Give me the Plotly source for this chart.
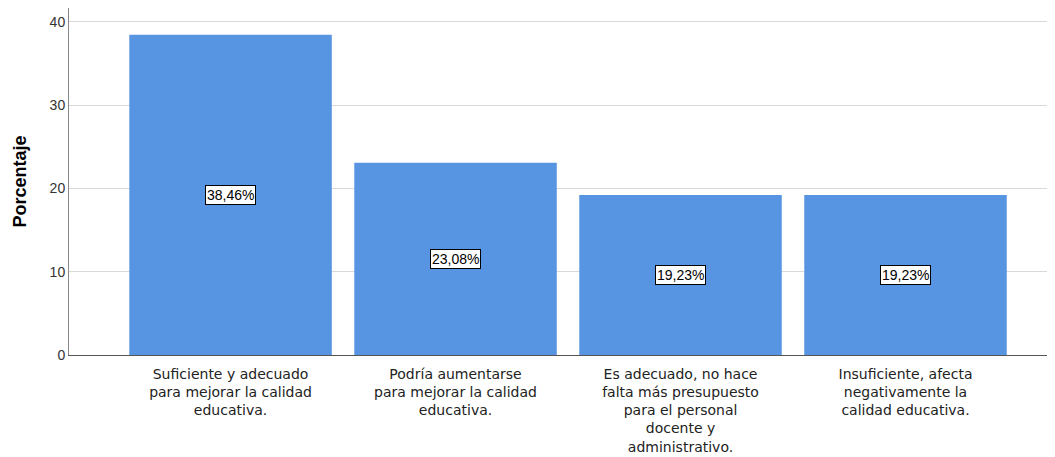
import plotly.graph_objects as go

categories = [
    "Suficiente y adecuado<br>para mejorar la calidad<br>educativa.",
    "Podría aumentarse<br>para mejorar la calidad<br>educativa.",
    "Es adecuado, no hace<br>falta más presupuesto<br>para el personal<br>docente y<br>administrativo.",
    "Insuficiente, afecta<br>negativamente la<br>calidad educativa.",
]
values = [38.46, 23.08, 19.23, 19.23]
labels = ["38,46%", "23,08%", "19,23%", "19,23%"]

fig = go.Figure()
fig.add_trace(go.Bar(
    x=list(range(len(categories))),
    y=values,
    width=0.9,
    marker=dict(color="#5795E2", line=dict(width=0)),
    hoverinfo="skip",
))

for i, (v, lab) in enumerate(zip(values, labels)):
    fig.add_annotation(
        x=i, y=v / 2, text=lab, showarrow=False,
        font=dict(family="Arial", size=14, color="black"),
        bgcolor="white", bordercolor="black", borderwidth=1, borderpad=1,
    )

fig.update_layout(
    width=1055, height=457,
    margin=dict(l=61, r=0, t=0, b=110, autoexpand=False),
    plot_bgcolor="white", paper_bgcolor="white",
    showlegend=False,
    bargap=0.1,
    font=dict(family="Arial", color="#222"),
)
fig.update_xaxes(
    tickmode="array", tickvals=list(range(len(categories))), ticktext=categories,
    range=[-0.718, 3.70],
    tickfont=dict(family="DejaVu Sans", size=14, color="#222"),
    showline=True, linecolor="#555", linewidth=1,
    showgrid=False, ticks="outside", ticklen=6, tickcolor="rgba(0,0,0,0)", zeroline=False,
)
fig.update_yaxes(
    range=[0, 41.68],
    tickvals=[0, 10, 20, 30, 40],
    tickfont=dict(family="Arial", size=14, color="#333"),
    title=dict(text="<b>Porcentaje</b>", font=dict(family="Arial", size=18, color="black"), standoff=18),
    showline=True, linecolor="#888", linewidth=1,
    showgrid=True, gridcolor="#d9d9d9", gridwidth=1,
    ticks="", zeroline=False,
)

fig.write_html("out.html")
